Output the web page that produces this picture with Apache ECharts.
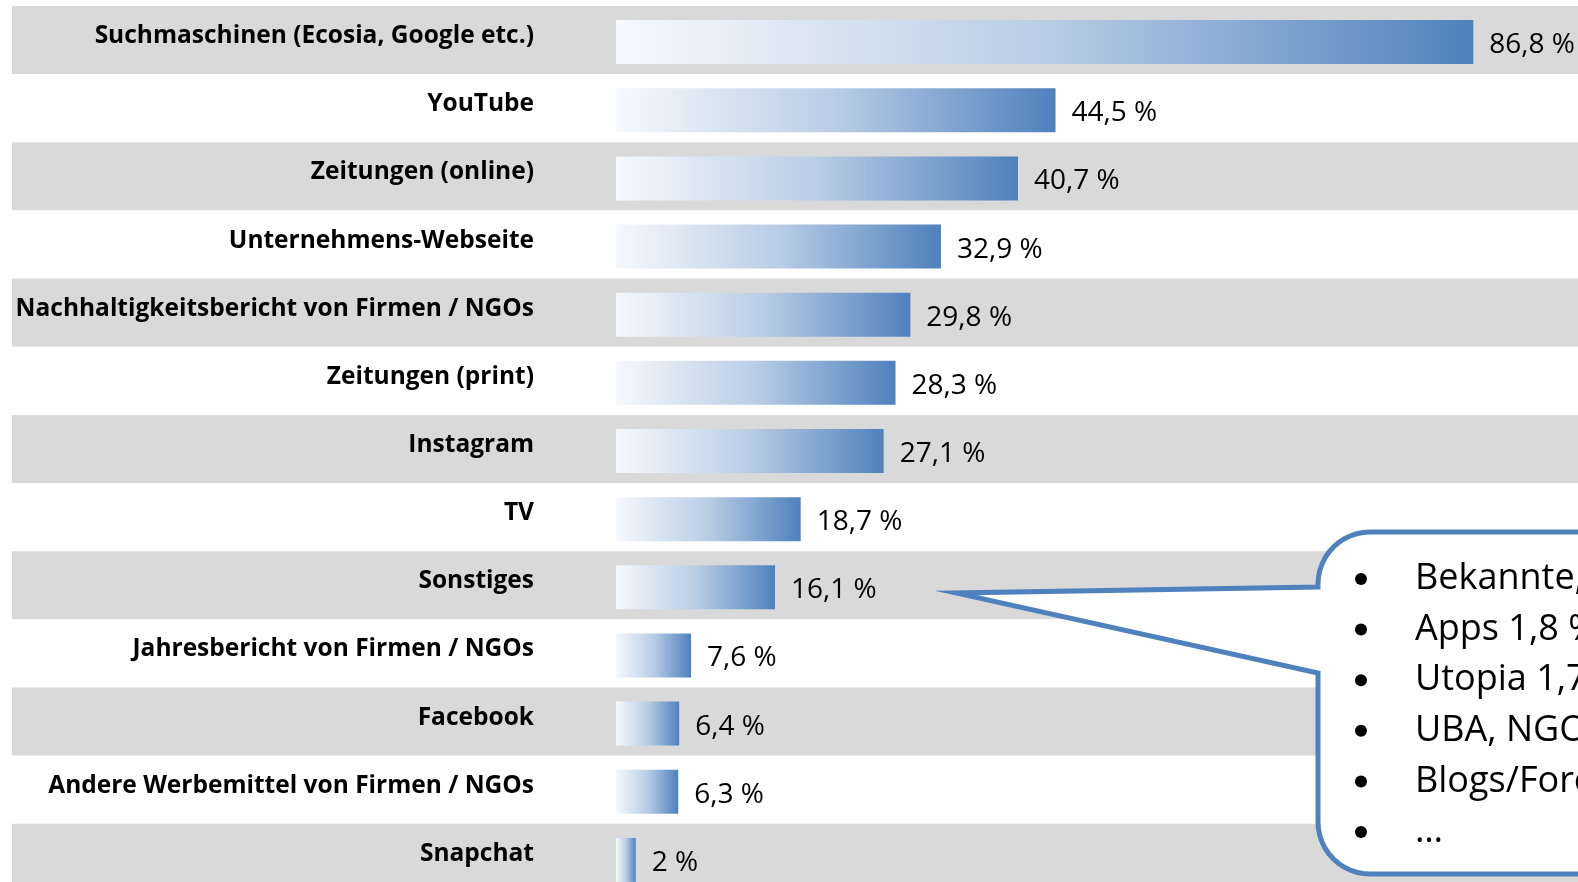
<!DOCTYPE html>
<html>
<head>
<meta charset="utf-8">
<script src="https://cdn.jsdelivr.net/npm/echarts@6/dist/echarts.min.js"></script>
<style>
  html, body { margin: 0; padding: 0; background: #fff; overflow: hidden; }
  #main { width: 1578px; height: 900px; }
</style>
</head>
<body>
<div id="main"></div>
<script>
// Kategorien und Werte (in %)
var categories = [
  'Suchmaschinen (Ecosia, Google etc.)',
  'YouTube',
  'Zeitungen (online)',
  'Unternehmens-Webseite',
  'Nachhaltigkeitsbericht von Firmen / NGOs',
  'Zeitungen (print)',
  'Instagram',
  'TV',
  'Sonstiges',
  'Jahresbericht von Firmen / NGOs',
  'Facebook',
  'Andere Werbemittel von Firmen / NGOs',
  'Snapchat'
];
var values = [86.8, 44.5, 40.7, 32.9, 29.8, 28.3, 27.1, 18.7, 16.1, 7.6, 6.4, 6.3, 2];

// Sonstiges - Aufschlüsselung (Sprechblase)
var otherItems = ['Bekannte, Freunde', 'Apps 1,8 %', 'Utopia 1,7 %', 'UBA, NGOs', 'Blogs/Foren', '…'];

var FONT = '"Open Sans", sans-serif';

function fmt(v) {
  return String(v).replace('.', ',') + ' %';
}

var myChart = echarts.init(document.getElementById('main'));

// Sprechblase rechts unten (Polygon mit runden Ecken)
var L = 1318, T = 532, B = 874, R = 52;
var pts = [[L, 587]];
var i, a;
for (i = 0; i <= 12; i++) {          // Ecke oben links
  a = Math.PI + (Math.PI / 2) * (i / 12);
  pts.push([L + R + R * Math.cos(a), T + R + R * Math.sin(a)]);
}
pts.push([1700, T], [1700, B]);
for (i = 0; i <= 12; i++) {          // Ecke unten links
  a = Math.PI / 2 + (Math.PI / 2) * (i / 12);
  pts.push([L + R + R * Math.cos(a), B - R + R * Math.sin(a)]);
}
pts.push([L, 673], [956, 593]);

var bubbleEls = [{
  type: 'polygon',
  shape: { points: pts },
  style: { fill: '#fff', stroke: '#4f81bd', lineWidth: 5, lineJoin: 'miter' },
  z: 10
}];
otherItems.forEach(function (t, k) {
  var y = 579 + k * 50.6;
  bubbleEls.push({
    type: 'circle', z: 11,
    shape: { cx: 1361, cy: y, r: 6 },
    style: { fill: '#000' }
  });
  bubbleEls.push({
    type: 'text', x: 1415, y: y, z: 11,
    style: { text: t, font: '36px ' + FONT, fill: '#000', align: 'left', verticalAlign: 'middle' }
  });
});

var option = {
  animation: false,
  backgroundColor: '#fff',
  grid: [
    { left: 616, right: 0, top: 8, height: 886 },
    { left: 12, right: 0, top: 6, height: 886 }
  ],
  xAxis: [
    { type: 'value', gridIndex: 0, min: 0, max: 97.4, show: false },
    { type: 'value', gridIndex: 1, min: 0, max: 1, show: false }
  ],
  yAxis: [
    {
      type: 'category', gridIndex: 0, inverse: true, data: categories,
      axisLine: { show: false }, axisTick: { show: false }, splitLine: { show: false },
      axisLabel: {
        margin: 82, color: '#000', fontFamily: FONT, fontWeight: 'bold', fontSize: 24.5,
        verticalAlign: 'bottom', lineHeight: 12
      }
    },
    {
      type: 'category', gridIndex: 1, inverse: true, data: categories,
      axisLine: { show: false }, axisTick: { show: false }, axisLabel: { show: false },
      splitLine: { show: false },
      splitArea: { show: true, areaStyle: { color: ['#d9d9d9', '#ffffff'] } }
    }
  ],
  series: [{
    type: 'bar',
    xAxisIndex: 0, yAxisIndex: 0,
    data: values,
    barWidth: 44,
    itemStyle: {
      color: new echarts.graphic.LinearGradient(0, 0, 1, 0, [
        { offset: 0, color: '#f6f9fd' },
        { offset: 0.5, color: '#b9cde5' },
        { offset: 1, color: '#4f81bd' }
      ])
    },
    label: {
      show: true, position: 'right', distance: 16, offset: [0, 3],
      color: '#000', fontFamily: FONT, fontSize: 28,
      formatter: function (p) { return fmt(p.value); }
    },
    z: 3
  }],
  graphic: bubbleEls
};

myChart.setOption(option);
</script>
</body>
</html>
